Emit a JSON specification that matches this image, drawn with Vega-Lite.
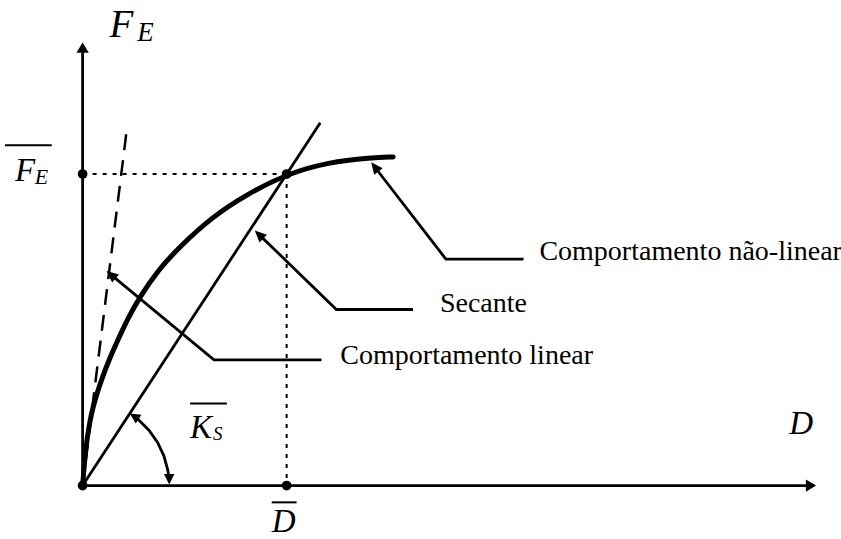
{
  "$schema": "https://vega.github.io/schema/vega-lite/v6.json",
  "width": 841,
  "height": 539,
  "autosize": {"type": "fit", "contains": "padding"},
  "padding": 0,
  "background": "white",
  "config": {"view": {"stroke": null}},
  "datasets": {
    "solidas": [
      {"g": "eixo-D", "i": 0, "x": 0, "y": 0},
      {"g": "eixo-D", "i": 1, "x": 3.56, "y": 0},
      {"g": "eixo-FE", "i": 0, "x": 0, "y": 0},
      {"g": "eixo-FE", "i": 1, "x": 0, "y": 1.39},
      {"g": "secante", "i": 0, "x": 0, "y": 0},
      {"g": "secante", "i": 1, "x": 1.165, "y": 1.165},
      {"g": "seta-nl", "i": 0, "x": 1.429, "y": 1.025},
      {"g": "seta-nl", "i": 1, "x": 1.7805, "y": 0.727},
      {"g": "seta-nl", "i": 2, "x": 2.161, "y": 0.727},
      {"g": "seta-sec", "i": 0, "x": 0.8615, "y": 0.8079},
      {"g": "seta-sec", "i": 1, "x": 1.2439, "y": 0.5651},
      {"g": "seta-sec", "i": 2, "x": 1.6195, "y": 0.5651},
      {"g": "seta-lin", "i": 0, "x": 0.1356, "y": 0.6787},
      {"g": "seta-lin", "i": 1, "x": 0.6439, "y": 0.4032},
      {"g": "seta-lin", "i": 2, "x": 1.1707, "y": 0.4032},
      {"g": "angulo", "i": 0, "x": 0.4234, "y": 0.0193},
      {"g": "angulo", "i": 1, "x": 0.418, "y": 0.048},
      {"g": "angulo", "i": 2, "x": 0.3988, "y": 0.0945},
      {"g": "angulo", "i": 3, "x": 0.3675, "y": 0.1381},
      {"g": "angulo", "i": 4, "x": 0.3251, "y": 0.1775},
      {"g": "angulo", "i": 5, "x": 0.2728, "y": 0.2116},
      {"g": "angulo", "i": 6, "x": 0.2495, "y": 0.2234}
    ],
    "curva": [
      {"i": 0, "x": 0, "y": 0},
      {"i": 1, "x": 0.0098, "y": 0.0794},
      {"i": 2, "x": 0.0195, "y": 0.1397},
      {"i": 3, "x": 0.0341, "y": 0.2},
      {"i": 4, "x": 0.0488, "y": 0.2476},
      {"i": 5, "x": 0.0732, "y": 0.3016},
      {"i": 6, "x": 0.0976, "y": 0.3492},
      {"i": 7, "x": 0.1317, "y": 0.4063},
      {"i": 8, "x": 0.1659, "y": 0.4571},
      {"i": 9, "x": 0.2195, "y": 0.5333},
      {"i": 10, "x": 0.278, "y": 0.6032},
      {"i": 11, "x": 0.3707, "y": 0.6921},
      {"i": 12, "x": 0.4732, "y": 0.7651},
      {"i": 13, "x": 0.6341, "y": 0.8619},
      {"i": 14, "x": 0.8, "y": 0.9333},
      {"i": 15, "x": 1, "y": 1},
      {"i": 16, "x": 1.2049, "y": 1.0381},
      {"i": 17, "x": 1.4146, "y": 1.0524},
      {"i": 18, "x": 1.522, "y": 1.0549}
    ],
    "tangente": [
      {"i": 0, "x": 0, "y": 0},
      {"i": 1, "x": 0.2195, "y": 1.1587}
    ],
    "guias": [
      {"g": "h", "i": 0, "x": 0, "y": 1},
      {"g": "h", "i": 1, "x": 1, "y": 1},
      {"g": "v", "i": 0, "x": 1, "y": 1},
      {"g": "v", "i": 1, "x": 1, "y": 0}
    ],
    "pontos": [
      {"x": 0, "y": 0},
      {"x": 0, "y": 1},
      {"x": 1, "y": 1},
      {"x": 1, "y": 0}
    ],
    "barras": [
      {"x": -0.3805, "x2": -0.1512, "y": 1.0921},
      {"x": 0.5268, "x2": 0.7073, "y": 0.2635},
      {"x": 0.9268, "x2": 1.0488, "y": -0.054}
    ]
  },
  "layer": [
    {
      "data": {"name": "guias"},
      "mark": {"type": "line", "color": "black", "strokeWidth": 2, "strokeDash": [4, 6]},
      "encoding": {
        "x": {"field": "x", "type": "quantitative", "axis": null, "scale": {"domain": [-0.40488, 3.69756], "nice": false, "zero": false}},
        "y": {"field": "y", "type": "quantitative", "axis": null, "scale": {"domain": [-0.15238, 1.55873], "nice": false, "zero": false}},
        "detail": {"field": "g"},
        "order": {"field": "i"}
      }
    },
    {
      "data": {"name": "tangente"},
      "mark": {"type": "line", "color": "black", "strokeWidth": 2.5, "strokeDash": [16, 10]},
      "encoding": {
        "x": {"field": "x", "type": "quantitative"},
        "y": {"field": "y", "type": "quantitative"},
        "order": {"field": "i"}
      }
    },
    {
      "data": {"name": "solidas"},
      "mark": {"type": "line", "color": "black", "strokeWidth": 2.8},
      "encoding": {
        "x": {"field": "x", "type": "quantitative"},
        "y": {"field": "y", "type": "quantitative"},
        "detail": {"field": "g"},
        "order": {"field": "i"}
      }
    },
    {
      "data": {"name": "curva"},
      "mark": {"type": "line", "color": "black", "strokeWidth": 5, "interpolate": "basis", "strokeCap": "round"},
      "encoding": {
        "x": {"field": "x", "type": "quantitative"},
        "y": {"field": "y", "type": "quantitative"},
        "order": {"field": "i"}
      }
    },
    {
      "data": {"name": "barras"},
      "mark": {"type": "rule", "color": "black", "strokeWidth": 2},
      "encoding": {
        "x": {"field": "x", "type": "quantitative"},
        "x2": {"field": "x2"},
        "y": {"field": "y", "type": "quantitative"}
      }
    },
    {
      "data": {"name": "pontos"},
      "mark": {"type": "point", "shape": "circle", "filled": true, "color": "black", "opacity": 1, "size": 95},
      "encoding": {
        "x": {"field": "x", "type": "quantitative"},
        "y": {"field": "y", "type": "quantitative"}
      }
    },
    {
      "data": {"values": [{"x": 0, "y": 1.4222}]},
      "mark": {"type": "point", "shape": "M0,0L-0.6,1L0.6,1Z", "filled": true, "color": "black", "opacity": 1, "size": 420, "angle": 0},
      "encoding": {"x": {"field": "x", "type": "quantitative"}, "y": {"field": "y", "type": "quantitative"}}
    },
    {
      "data": {"values": [{"x": 3.5951, "y": 0}]},
      "mark": {"type": "point", "shape": "M0,0L-0.6,1L0.6,1Z", "filled": true, "color": "black", "opacity": 1, "size": 420, "angle": 90},
      "encoding": {"x": {"field": "x", "type": "quantitative"}, "y": {"field": "y", "type": "quantitative"}}
    },
    {
      "data": {"values": [{"x": 1.4146, "y": 1.0381}]},
      "mark": {"type": "point", "shape": "M0,0L-0.45,1L0.45,1Z", "filled": true, "color": "black", "opacity": 1, "size": 560, "angle": 322.6},
      "encoding": {"x": {"field": "x", "type": "quantitative"}, "y": {"field": "y", "type": "quantitative"}}
    },
    {
      "data": {"values": [{"x": 0.8439, "y": 0.819}]},
      "mark": {"type": "point", "shape": "M0,0L-0.45,1L0.45,1Z", "filled": true, "color": "black", "opacity": 1, "size": 560, "angle": 314.3},
      "encoding": {"x": {"field": "x", "type": "quantitative"}, "y": {"field": "y", "type": "quantitative"}}
    },
    {
      "data": {"values": [{"x": 0.1171, "y": 0.6889}]},
      "mark": {"type": "point", "shape": "M0,0L-0.45,1L0.45,1Z", "filled": true, "color": "black", "opacity": 1, "size": 560, "angle": 309.8},
      "encoding": {"x": {"field": "x", "type": "quantitative"}, "y": {"field": "y", "type": "quantitative"}}
    },
    {
      "data": {"values": [{"x": 0.2312, "y": 0.2316}]},
      "mark": {"type": "point", "shape": "M0,0L-0.5,1L0.5,1Z", "filled": true, "color": "black", "opacity": 1, "size": 440, "angle": 303},
      "encoding": {"x": {"field": "x", "type": "quantitative"}, "y": {"field": "y", "type": "quantitative"}}
    },
    {
      "data": {"values": [{"x": 0.4244, "y": 0.0032}]},
      "mark": {"type": "point", "shape": "M0,0L-0.5,1L0.5,1Z", "filled": true, "color": "black", "opacity": 1, "size": 440, "angle": 180},
      "encoding": {"x": {"field": "x", "type": "quantitative"}, "y": {"field": "y", "type": "quantitative"}}
    },
    {
      "data": {"values": [{"t": "F", "x": 0.1317, "y": 1.4413}]},
      "mark": {"type": "text", "font": "Liberation Serif", "fontStyle": "italic", "fontSize": 39, "align": "left", "baseline": "alphabetic", "color": "black"},
      "encoding": {"x": {"field": "x", "type": "quantitative"}, "y": {"field": "y", "type": "quantitative"}, "text": {"field": "t"}}
    },
    {
      "data": {"values": [
        {"t": "D", "x": 3.4634, "y": 0.1651},
        {"t": "D", "x": 0.9268, "y": -0.1492},
        {"t": "F", "x": -0.3317, "y": 0.9778},
        {"t": "K", "x": 0.5268, "y": 0.1524}
      ]},
      "mark": {"type": "text", "font": "Liberation Serif", "fontStyle": "italic", "fontSize": 33, "align": "left", "baseline": "alphabetic", "color": "black"},
      "encoding": {"x": {"field": "x", "type": "quantitative"}, "y": {"field": "y", "type": "quantitative"}, "text": {"field": "t"}}
    },
    {
      "data": {"values": [{"t": "E", "x": 0.2683, "y": 1.4286}]},
      "mark": {"type": "text", "font": "Liberation Serif", "fontStyle": "italic", "fontSize": 27, "align": "left", "baseline": "alphabetic", "color": "black"},
      "encoding": {"x": {"field": "x", "type": "quantitative"}, "y": {"field": "y", "type": "quantitative"}, "text": {"field": "t"}}
    },
    {
      "data": {"values": [{"t": "E", "x": -0.2341, "y": 0.9683}]},
      "mark": {"type": "text", "font": "Liberation Serif", "fontStyle": "italic", "fontSize": 22, "align": "left", "baseline": "alphabetic", "color": "black"},
      "encoding": {"x": {"field": "x", "type": "quantitative"}, "y": {"field": "y", "type": "quantitative"}, "text": {"field": "t"}}
    },
    {
      "data": {"values": [{"t": "S", "x": 0.639, "y": 0.146}]},
      "mark": {"type": "text", "font": "Liberation Serif", "fontStyle": "italic", "fontSize": 19, "align": "left", "baseline": "alphabetic", "color": "black"},
      "encoding": {"x": {"field": "x", "type": "quantitative"}, "y": {"field": "y", "type": "quantitative"}, "text": {"field": "t"}}
    },
    {
      "data": {"values": [
        {"t": "Comportamento não-linear", "x": 2.239, "y": 0.7238},
        {"t": "Secante", "x": 1.7512, "y": 0.5587},
        {"t": "Comportamento linear", "x": 1.2634, "y": 0.3905}
      ]},
      "mark": {"type": "text", "font": "Liberation Serif", "fontSize": 28, "align": "left", "baseline": "alphabetic", "color": "black"},
      "encoding": {"x": {"field": "x", "type": "quantitative"}, "y": {"field": "y", "type": "quantitative"}, "text": {"field": "t"}}
    }
  ]
}
